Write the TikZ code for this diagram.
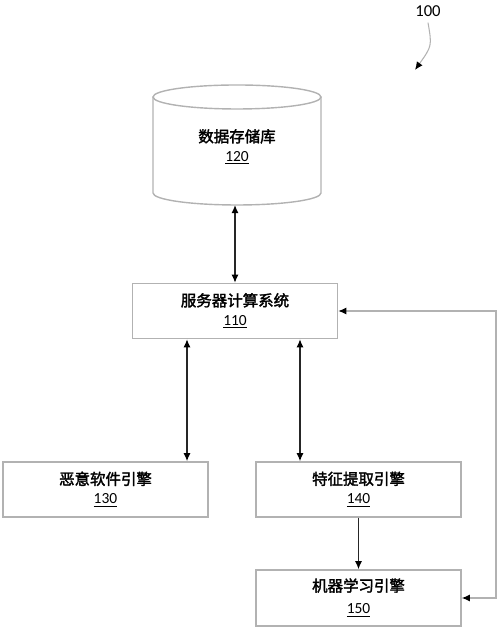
\documentclass[tikz,border=0pt]{standalone}
\usepackage{fontspec}
\setmainfont{Carlito}
\newfontfamily\cjk[FakeBold=2]{Noto Sans CJK SC}
\usetikzlibrary{calc, arrows.meta, positioning}

\tikzset{
  box/.style={draw=black!30, line width=0.8pt, minimum width=4.1cm, minimum height=1.1cm,
    inner sep=0pt, align=center, font=\fontsize{8.8}{10.8}\selectfont},
  link/.style={black!85, line width=0.8pt},
  fbline/.style={draw=black!30, line width=0.8pt}
}

\begin{document}
\begin{tikzpicture}[x=0.02cm, y=0.02cm, >={Latex[length=4.6pt,width=4pt,black]}]
  \useasboundingbox (0,0) rectangle (500,631);

  % Define points
  \coordinate (dbtop) at (237,534);
  \coordinate (dbbot) at (237,426);
  \coordinate (loop) at (496,33);

  % Data store drawn as a cylinder
  \draw[fbline] (153,534) -- (153,438) arc[start angle=180, end angle=360, x radius=84, y radius=12] -- (321,534);
  \draw[fbline] (dbtop) ellipse [x radius=84, y radius=12];
  \node[align=center, font=\fontsize{8.8}{10.8}\selectfont] (db) at (237,484) {{\cjk 数据存储库}\\\underline{120}};

  % Boxes
  \node[box] (sys) at (235,320) {{\cjk 服务器计算系统}\\\underline{110}};
  \node[box] (mal) at (105.5,141.5) {{\cjk 恶意软件引擎}\\\underline{130}};
  \node[box] (feat) at (358.5,141.5) {{\cjk 特征提取引擎}\\\underline{140}};
  \node[box, minimum height=1.12cm] (ml) at (358.5,33) {{\cjk 机器学习引擎}\\[2pt]\underline{150}};

  % Arrows
  \draw[link, <->] (sys.north) -- (sys.north |- dbbot);
  \draw[link, <->] ([xshift=-0.96cm]sys.south) -- ([xshift=-0.96cm]sys.south |- mal.north);
  \draw[link, <->] ([xshift=1.3cm]sys.south) -- ([xshift=1.3cm]sys.south |- feat.north);
  \draw[link, ->] (feat.south) -- (ml.north);
  \draw[fbline, <->] (sys.east) -| (loop) -- (ml.east);

  % Label 100
  \node[font=\fontsize{9.5}{10}\selectfont] (lbl) at (428,620) {100};
  \draw[fbline, line width=0.6pt, ->] (lbl.south) .. controls (432,585) .. (415,561);
\end{tikzpicture}
\end{document}
